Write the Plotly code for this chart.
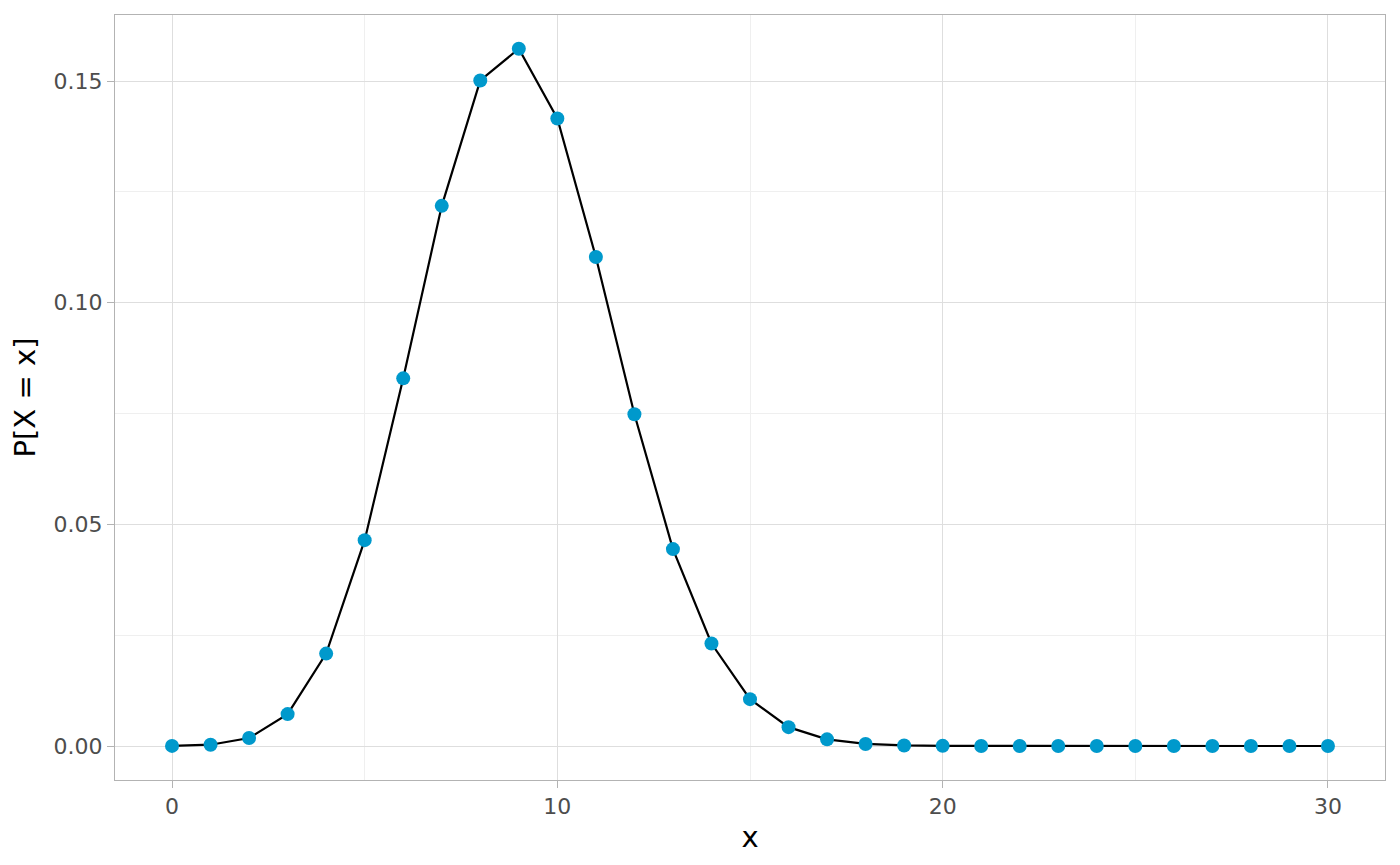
import plotly.graph_objects as go

# valeurs
x_vals = list(range(0, 31))
prob = [0.00002, 0.00029, 0.00180, 0.00720, 0.02084, 0.04644, 0.08293, 0.12185,
        0.15014, 0.15729, 0.14156, 0.11030, 0.07485, 0.04442, 0.02312, 0.01057,
        0.00425, 0.00150, 0.00046, 0.00012, 0.00003, 0.00001, 0.0, 0.0,
        0.0, 0.0, 0.0, 0.0, 0.0, 0.0, 0.0]

fig = go.Figure()

fig.add_trace(
    go.Scatter(
        x=x_vals,
        y=prob,
        mode='lines+markers',
        line={'color': 'black', 'width': 2.2},
        marker={'color': '#0099CC', 'size': 14},
        showlegend=False
    )
)

grid = '#dedede'
axis_common = dict(
    showline=True, linecolor='#b3b3b3', linewidth=1, mirror=True,
    showgrid=True, gridcolor=grid, gridwidth=1,
    ticks='outside', ticklen=7, tickcolor='#b3b3b3',
    tickfont={'family': 'DejaVu Sans', 'size': 22, 'color': '#4d4d4d'},
    zeroline=False,
)

# la page a une marge de 8 px autour de la figure
fig.update_layout(
    width=1384, height=849,
    margin={'l': 107, 'r': 7, 't': 7, 'b': 77},
    paper_bgcolor='white',
    plot_bgcolor='white',
    font={'family': 'DejaVu Sans'},
    xaxis=dict(
        axis_common,
        range=[-1.48, 31.48],
        tickvals=[0, 10, 20, 30],
        minor={'tickvals': [5, 15, 25], 'showgrid': True,
               'gridcolor': '#efefef', 'gridwidth': 1, 'ticks': ''},
        title={'text': 'x', 'font': {'size': 29, 'color': 'black'}, 'standoff': 8},
    ),
    yaxis=dict(
        axis_common,
        range=[-0.00767, 0.1649],
        tickvals=[0.0, 0.05, 0.10, 0.15],
        ticktext=['0.00', '0.05', '0.10', '0.15'],
        minor={'tickvals': [0.025, 0.075, 0.125], 'showgrid': True,
               'gridcolor': '#efefef', 'gridwidth': 1, 'ticks': ''},
        title={'text': 'P[X = x]', 'font': {'size': 29, 'color': 'black'}, 'standoff': 10},
    ),
)

fig.write_html("out.html")
